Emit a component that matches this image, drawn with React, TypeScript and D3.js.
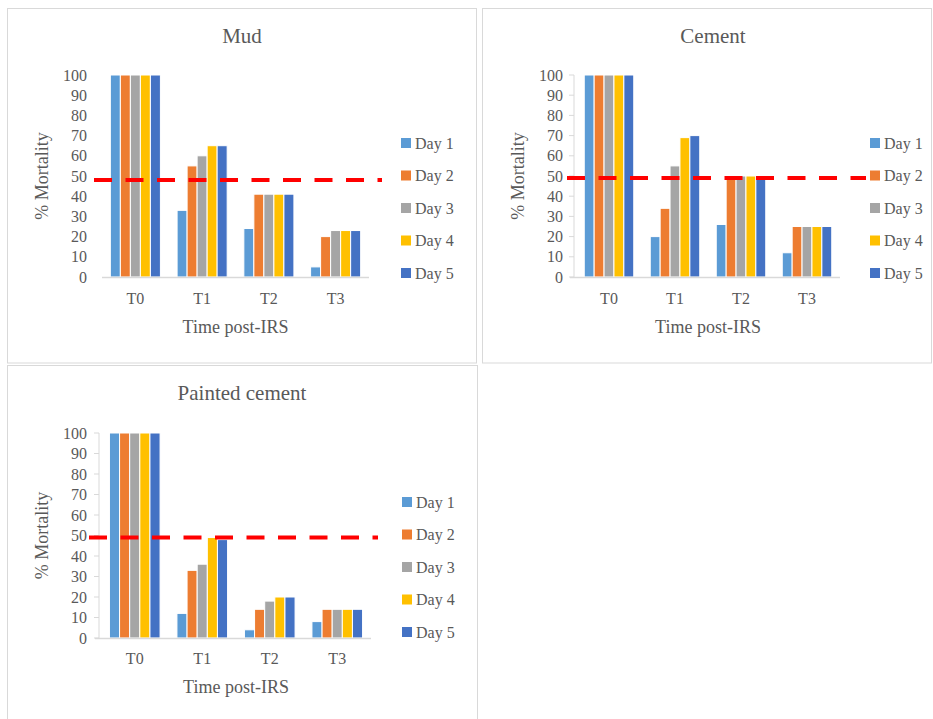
import React from "react";
import * as d3 from "d3";

const categories = ["T0", "T1", "T2", "T3"];
const seriesNames = ["Day 1", "Day 2", "Day 3", "Day 4", "Day 5"];
const seriesColors = ["#5B9BD5", "#ED7D31", "#A5A5A5", "#FFC000", "#4472C4"];
const yTicks = [0, 10, 20, 30, 40, 50, 60, 70, 80, 90, 100];

// values[series][category]
const mudValues = [
  [100, 33, 24, 5],
  [100, 55, 41, 20],
  [100, 60, 41, 23],
  [100, 65, 41, 23],
  [100, 65, 41, 23],
];
const cementValues = [
  [100, 20, 26, 12],
  [100, 34, 50, 25],
  [100, 55, 50, 25],
  [100, 69, 50, 25],
  [100, 70, 50, 25],
];
const paintedValues = [
  [100, 12, 4, 8],
  [100, 33, 14, 14],
  [100, 36, 18, 14],
  [100, 49, 20, 14],
  [100, 48, 20, 14],
];
const thresholds = [48, 49, 49];
const titles = ["Mud", "Cement", "Painted cement"];

const TEXT = "#595959";
const FONT = "'Liberation Serif', 'DejaVu Serif', serif";

type Layout = {
  box: [number, number, number, number];
  px: [number, number];
  py: [number, number];
  axisLine: boolean;
  dash: [number, number];
  legendX: number;
  legendY: number;
  tickRight: number;
  yTitleX: number;
  titleX: number;
  titleY: number;
  xTickY: number;
  xTitleY: number;
};

const layouts: Layout[] = [
  {
    box: [7.5, 8.5, 476.5, 363],
    px: [102, 369],
    py: [75, 277],
    axisLine: false,
    dash: [94, 382],
    legendX: 401,
    legendY: 143,
    tickRight: 87,
    yTitleX: 48,
    titleX: 242,
    titleY: 43,
    xTickY: 304,
    xTitleY: 333,
  },
  {
    box: [482.5, 8.5, 931.5, 363],
    px: [576, 840],
    py: [75, 277],
    axisLine: true,
    dash: [567, 866],
    legendX: 870,
    legendY: 143,
    tickRight: 563,
    yTitleX: 524,
    titleX: 713,
    titleY: 43,
    xTickY: 304,
    xTitleY: 333,
  },
  {
    box: [7.5, 365.5, 477.5, 725],
    px: [101, 371],
    py: [433, 638],
    axisLine: true,
    dash: [89, 378],
    legendX: 402,
    legendY: 502,
    tickRight: 87,
    yTitleX: 48,
    titleX: 242,
    titleY: 400,
    xTickY: 664,
    xTitleY: 693,
  },
];

const allValues = [mudValues, cementValues, paintedValues];

function Panel({ idx }: { idx: number }) {
  const L = layouts[idx];
  const values = allValues[idx];
  const x = d3
    .scaleBand<string>()
    .domain(categories)
    .range(L.px)
    .paddingInner(0.25)
    .paddingOuter(0.125);
  const xs = d3
    .scaleBand<string>()
    .domain(seriesNames)
    .range([0, x.bandwidth()])
    .padding(0);
  const y = d3.scaleLinear().domain([0, 100]).range([L.py[1], L.py[0]]);
  const [bx0, by0, bx1, by1] = L.box;
  const axisLeft = L.axisLine ? L.px[0] - 2 : L.px[0];
  return (
    <g>
      <rect
        x={bx0}
        y={by0}
        width={bx1 - bx0}
        height={by1 - by0}
        fill="#fff"
        stroke="#d9d9d9"
        strokeWidth={1}
      />
      <text
        x={L.titleX}
        y={L.titleY}
        textAnchor="middle"
        fontSize={21}
        fill={TEXT}
        fontFamily={FONT}
      >
        {titles[idx]}
      </text>
      {/* y ticks */}
      {yTicks.map((t) => (
        <g key={t}>
          <text
            x={L.tickRight}
            y={y(t)}
            dy="0.35em"
            textAnchor="end"
            fontSize={16}
            fill={TEXT}
            fontFamily={FONT}
          >
            {t}
          </text>
          {L.axisLine && (
            <line
              x1={axisLeft - 5}
              x2={axisLeft}
              y1={y(t)}
              y2={y(t)}
              stroke="#d9d9d9"
              strokeWidth={1}
            />
          )}
        </g>
      ))}
      {L.axisLine && (
        <line
          x1={axisLeft}
          x2={axisLeft}
          y1={y(100)}
          y2={y(0)}
          stroke="#d9d9d9"
          strokeWidth={1}
        />
      )}
      {/* bars */}
      {seriesNames.map((s, si) =>
        categories.map((c, ci) => (
          <rect
            key={s + c}
            x={(x(c) ?? 0) + (xs(s) ?? 0)}
            y={y(values[si][ci])}
            width={xs.bandwidth()}
            height={y(0) - y(values[si][ci])}
            fill={seriesColors[si]}
            stroke="#fff"
            strokeWidth={1}
          />
        ))
      )}
      {/* baseline */}
      <line
        x1={L.axisLine ? axisLeft - 4 : L.px[0]}
        x2={L.px[1]}
        y1={y(0) + 0.5}
        y2={y(0) + 0.5}
        stroke="#d9d9d9"
        strokeWidth={1.5}
      />
      {/* x tick labels */}
      {categories.map((c) => (
        <text
          key={c}
          x={(x(c) ?? 0) + x.bandwidth() / 2}
          y={L.xTickY}
          textAnchor="middle"
          fontSize={16}
          fill={TEXT}
          fontFamily={FONT}
        >
          {c}
        </text>
      ))}
      <text
        x={(L.px[0] + L.px[1]) / 2}
        y={L.xTitleY}
        textAnchor="middle"
        fontSize={18}
        fill={TEXT}
        fontFamily={FONT}
      >
        Time post-IRS
      </text>
      <text
        transform={`translate(${L.yTitleX},${(L.py[0] + L.py[1]) / 2}) rotate(-90)`}
        textAnchor="middle"
        fontSize={18}
        fill={TEXT}
        fontFamily={FONT}
      >
        % Mortality
      </text>
      {/* threshold */}
      <line
        x1={L.dash[0]}
        x2={L.dash[1]}
        y1={y(thresholds[idx])}
        y2={y(thresholds[idx])}
        stroke="#FF0000"
        strokeWidth={4}
        strokeDasharray="18 13.5"
      />
      {/* legend */}
      {seriesNames.map((s, si) => (
        <g key={s} transform={`translate(${L.legendX},${L.legendY + si * 32.5})`}>
          <rect x={0} y={-5} width={10} height={10} fill={seriesColors[si]} />
          <text
            x={14}
            y={0}
            dy="0.35em"
            fontSize={16}
            fill={TEXT}
            fontFamily={FONT}
          >
            {s}
          </text>
        </g>
      ))}
    </g>
  );
}

export default function App() {
  return (
    <svg
      width={933}
      height={719}
      style={{ position: "absolute", left: 0, top: 0, background: "#fff" }}
    >
      <rect x={0} y={0} width={933} height={719} fill="#fff" />
      <Panel idx={0} />
      <Panel idx={1} />
      <Panel idx={2} />
    </svg>
  );
}
